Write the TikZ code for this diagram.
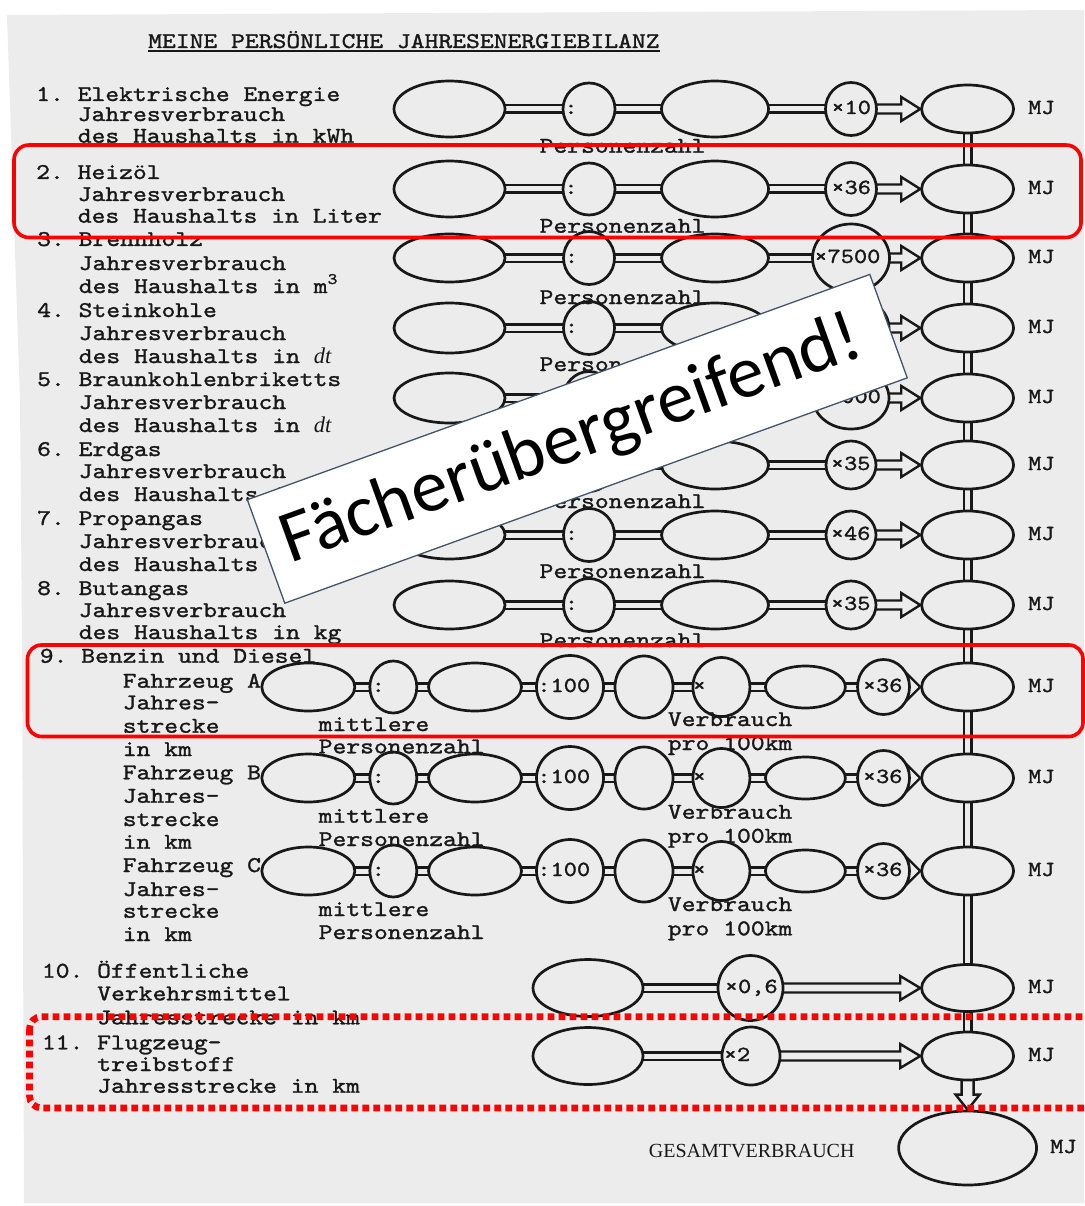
\documentclass[tikz,border=0pt]{standalone}
\usepackage{fontspec}
\newfontfamily\tw{lmmono10-regular.otf}[FakeStretch=1.17, FakeBold=1.3]
\newfontfamily\sv{Liberation Serif}
\newfontfamily\cb{Carlito}
\usetikzlibrary{shapes.geometric,calc}
\pgfdeclarelayer{bg}
\pgfsetlayers{bg,main}
\definecolor{paper}{RGB}{236,236,236}
\definecolor{ink}{RGB}{24,24,24}
\definecolor{slate}{RGB}{68,84,106}
\frenchspacing

\newcommand\bodyfont{\tw\fontsize{22.5}{27}\selectfont}
\newcommand\facfont{\tw\fontsize{21.5}{26}\selectfont}

% hollow arrow with a double shaft: from node #1 to the west side of node #2, head length #3
\newcommand\harrow[3]{%
  \draw[hol] ($(#1.center)+(0,-4.5)$) -- ($(#2.west)+(-#3,-4.5)$) -- ($(#2.west)+(-#3,-12)$)
    -- (#2.west) -- ($(#2.west)+(-#3,12)$) -- ($(#2.west)+(-#3,4.5)$) -- ($(#1.center)+(0,4.5)$);}

% text written inside an oval, starting #2 from its left side
\newcommand\ftext[3]{\node[ftx] (#1t) at ($(#1.west)+(#2,5)$) {#3};}

% one household row: id, y, oval height, colon width/height, factor width/height
\newcommand\stdrow[7]{%
  \node[ov={111}{#3}] (a#1) at (449.5,#2) {};
  \node[ov={#4}{#5}] (b#1) at (589,#2) {};
  \node[ov={107}{#3}] (c#1) at (715,#2) {};
  \node[ov={#6}{#7}] (f#1) at (851,#2) {};
  \node[ov={92}{48}] (r#1) at (967.6,#2) {};
  \ftext{b#1}{2.5}{:}
  \node[ftx] (mj#1) at ($(r#1.east)+(13,5)$) {MJ};
}

% one vehicle row of item 9
\newcommand\carrow[2]{%
  \node[ov={93}{48}] (p#1) at (308.3,#2) {};
  \node[ov={47}{52}] (q#1) at (393.3,#2) {};
  \node[ov={93}{48}] (s#1) at (475,#2) {};
  \node[ov={67}{63}] (h#1) at (570,#2) {};
  \node[ov={58}{62}] (e#1) at (644,#2) {};
  \node[ov={57}{59}] (m#1) at (721.4,#2) {};
  \node[ov={80}{42}] (t#1) at (805.4,#2) {};
  \node[ov={52}{55}] (g#1) at (883.5,#2) {};
  \node[ov={92}{48}] (r9#1) at (967.6,#2) {};
  \ftext{q#1}{3}{:}\ftext{h#1}{2}{:100}\ftext{m#1}{1}{×}\ftext{g#1}{6.5}{×36}
  \node[ftx] (mj9#1) at ($(r9#1.east)+(13,5)$) {MJ};
}

\begin{document}
\begin{tikzpicture}[x=1pt,y=-1pt,
  ov/.style 2 args={ellipse, draw=ink, line width=2.7pt, fill=paper, inner sep=0pt,
    minimum width=#1, minimum height=#2},
  dbl/.style={draw=ink, line width=2.6pt, double=paper, double distance=5pt},
  hol/.style={draw=ink, line width=2.4pt, fill=paper, line join=miter},
  txt/.style={anchor=base west, inner sep=0pt, text=ink, font=\bodyfont},
  ftx/.style={anchor=base west, inner sep=0pt, text=ink, font=\facfont},
  redbox/.style={draw=red, line width=3.6pt}]

\useasboundingbox (0,0) rectangle (1084,1206);

% ---------- ovals ----------
\stdrow{1}{109}{56}{52}{52}{51}{53}
\stdrow{2}{189}{56}{52}{52}{51}{53}
\stdrow{3}{258}{48}{51}{53}{77}{68}
\stdrow{4}{328}{50}{51}{53}{76}{62}
\stdrow{5}{398}{50}{51}{53}{76}{62}
\stdrow{6}{465}{48}{51}{53}{50}{48}
\stdrow{7}{535}{48}{51}{53}{50}{48}
\stdrow{8}{605}{48}{51}{53}{50}{48}

\ftext{f1}{7}{×10}
\ftext{f2}{7}{×36}
\ftext{f3}{3}{×7500}
\ftext{f5}{3}{×3000}
\ftext{f6}{6}{×35}
\ftext{f7}{6}{×46}
\ftext{f8}{6}{×35}

\carrow{A}{687}
\carrow{B}{778}
\carrow{C}{871}

\node[ov={110}{57}] (u10) at (588,988) {};
\node[ov={65}{65}] (x10) at (750.5,988) {};
\node[ov={92}{47}] (r10) at (967.6,988) {};
\ftext{x10}{8}{×0,6}
\node[ftx] (mj10) at ($(r10.east)+(13,5)$) {MJ};

\node[ov={110}{57}] (u11) at (588,1056) {};
\node[ov={58}{58}] (x11) at (751,1056) {};
\node[ov={92}{48}] (r11) at (967.6,1056) {};
\ftext{x11}{3}{×2}
\node[ftx] (mj11) at ($(r11.east)+(13,5)$) {MJ};

\node[ov={138}{74}] (tot) at (967.6,1148) {};
\node[ftx] (mjtot) at ($(tot.east)+(12,5)$) {MJ};
\node[anchor=base, inner sep=0pt, text=ink, font=\sv\fontsize{20}{24}\selectfont] (gesamt) at (751.7,1157) {GESAMTVERBRAUCH};

% ---------- paper and connectors ----------
\begin{pgfonlayer}{bg}
  \fill[white] (0,0) rectangle (1084,1206);
  \fill[paper] (7,15) -- (1084,10) -- (1084,1203) -- (24,1203) -- (22,640) -- (20,400) -- cycle;
  \foreach \i in {1,...,8} {
    \draw[dbl] (a\i.center) -- (b\i.center) -- (c\i.center) -- (f\i.center);
    \harrow{f\i}{r\i}{19}
  }
  \foreach \k in {A,B,C} {
    \draw[dbl] (p\k.center) -- (q\k.center) -- (s\k.center) -- (h\k.center) -- (e\k.center)
      -- (m\k.center) -- (t\k.center) -- (g\k.center);
    \harrow{g\k}{r9\k}{12}
  }
  \draw[dbl] (u10.center) -- (x10.center);
  \harrow{x10}{r10}{20}
  \draw[dbl] (u11.center) -- (x11.center);
  \harrow{x11}{r11}{20}
  \draw[dbl] (r1.center) -- (r2.center) -- (r3.center) -- (r4.center) -- (r5.center)
    -- (r6.center) -- (r7.center) -- (r8.center) -- (r9A.center) -- (r9B.center)
    -- (r9C.center) -- (r10.center) -- (r11.center);
  \draw[hol] ($(r11.center)+(-6,0)$) -- ($(tot.north)+(-6,-15)$) -- ($(tot.north)+(-12,-15)$)
    -- (tot.north) -- ($(tot.north)+(12,-15)$) -- ($(tot.north)+(6,-15)$) -- ($(r11.center)+(6,0)$);
\end{pgfonlayer}

% ---------- title ----------
\node[txt] (title) at (148,48) {MEINE PERSÖNLICHE JAHRESENERGIEBILANZ};
\draw[ink, line width=1.4pt] ($(title.base west)+(0,3)$) -- ($(title.base east)+(0,3)$);

% ---------- left column ----------
\node[txt] (i1a) at (36,101) {1. Elektrische Energie};
\node[txt] (i1b) at (77.6,121) {Jahresverbrauch};
\node[txt] (i1c) at (77.6,142.7) {des Haushalts in kWh};

\node[txt] (i2a) at (36,179) {2. Heizöl};
\node[txt] (i2b) at (77.6,201) {Jahresverbrauch};
\node[txt] (i2c) at (77.6,222.7) {des Haushalts in Liter};

\node[txt] (i3a) at (37,246) {3. Brennholz};
\node[txt] (i3b) at (78.6,270) {Jahresverbrauch};
\node[txt] (i3c) at (78.6,293) {des Haushalts in m\raisebox{9pt}{\fontsize{16}{16}\selectfont 3}};

\node[txt] (i4a) at (37,317) {4. Steinkohle};
\node[txt] (i4b) at (78.6,340) {Jahresverbrauch};
\node[txt] (i4c) at (78.6,363) {des Haushalts in {\sv\itshape dt}};

\node[txt] (i5a) at (37,386) {5. Braunkohlenbriketts};
\node[txt] (i5b) at (78.6,409) {Jahresverbrauch};
\node[txt] (i5c) at (78.6,432) {des Haushalts in {\sv\itshape dt}};

\node[txt] (i6a) at (37,456) {6. Erdgas};
\node[txt] (i6b) at (78.6,478) {Jahresverbrauch};
\node[txt] (i6c) at (78.6,501) {des Haushalts in m\raisebox{9pt}{\fontsize{16}{16}\selectfont 3}};

\node[txt] (i7a) at (37,525) {7. Propangas};
\node[txt] (i7b) at (78.6,548) {Jahresverbrauch};
\node[txt] (i7c) at (78.6,571) {des Haushalts in kg};

\node[txt] (i8a) at (37,595) {8. Butangas};
\node[txt] (i8b) at (78.6,617) {Jahresverbrauch};
\node[txt] (i8c) at (78.6,639) {des Haushalts in kg};

\node[txt] (i9) at (39.6,662.7) {9. Benzin und Diesel};
\node[txt] (i9a1) at (122.6,687.7) {Fahrzeug A};
\node[txt] (i9a2) at (122.6,709.3) {Jahres-};
\node[txt] (i9a3) at (122.6,732.7) {strecke};
\node[txt] (i9a4) at (122.6,756) {in km};
\node[txt] (i9b1) at (122.6,779.3) {Fahrzeug B};
\node[txt] (i9b2) at (122.6,802.7) {Jahres-};
\node[txt] (i9b3) at (122.6,826) {strecke};
\node[txt] (i9b4) at (122.6,848.7) {in km};
\node[txt] (i9c1) at (122.6,872) {Fahrzeug C};
\node[txt] (i9c2) at (122.6,896) {Jahres-};
\node[txt] (i9c3) at (122.6,917.7) {strecke};
\node[txt] (i9c4) at (122.6,941) {in km};

\node[txt] (i10a) at (41.7,977.7) {10. Öffentliche};
\node[txt] (i10b) at (97.1,1000.3) {Verkehrsmittel};
\node[txt] (i10c) at (97.1,1024.3) {Jahresstrecke in km};

\node[txt] (i11a) at (41.7,1049.3) {11. Flugzeug-};
\node[txt] (i11b) at (97.1,1071) {treibstoff};
\node[txt] (i11c) at (97.1,1092.7) {Jahresstrecke in km};

% ---------- captions under the ovals ----------
\node[txt] (pz1) at (539.4,152.7) {Personenzahl};
\node[txt] (pz2) at (539.4,232.7) {Personenzahl};
\node[txt] (pz3) at (539.4,304) {Personenzahl};
\node[txt] (pz4) at (539.4,371) {Personenzahl};
\node[txt] (pz5) at (539.4,440) {Personenzahl};
\node[txt] (pz6) at (539.4,508) {Personenzahl};
\node[txt] (pz7) at (539.4,578) {Personenzahl};
\node[txt] (pz8) at (539.4,647) {Personenzahl};

\node[txt] (mtA) at (318.5,731) {mittlere};
\node[txt] (mpA) at (318.5,753.3) {Personenzahl};
\node[txt] (mtB) at (318.5,822.7) {mittlere};
\node[txt] (mpB) at (318.5,846) {Personenzahl};
\node[txt] (mtC) at (318.5,916) {mittlere};
\node[txt] (mpC) at (318.5,939) {Personenzahl};

\node[txt] (vbA) at (667.7,726) {Verbrauch};
\node[txt] (vkA) at (667.7,750) {pro 100km};
\node[txt] (vbB) at (667.7,818.7) {Verbrauch};
\node[txt] (vkB) at (667.7,842.7) {pro 100km};
\node[txt] (vbC) at (667.7,911) {Verbrauch};
\node[txt] (vkC) at (667.7,935.3) {pro 100km};

% ---------- slanted banner ----------
\node[draw=slate, line width=1.3pt, fill=white, inner sep=0pt, minimum width=662, minimum height=110,
  rotate=19.9] (banner) at (577.3,438.8) {};
\node[rotate=19.9, anchor=base, inner sep=0pt, text=black, font=\cb\fontsize{74}{80}\selectfont]
  (bannertext) at (578,459.5) {Fächerübergreifend!};

% ---------- red highlight frames ----------
\draw[redbox, rounded corners=15pt] (14,145) rectangle (1081,237.5);
\draw[redbox, rounded corners=14pt] (27.5,645) rectangle (1083,736.5);
\draw[draw=red, line width=6.7pt, dash pattern=on 6.7pt off 4.3pt, rounded corners=12pt]
  (29.5,1016.7) rectangle (1100,1108);

\end{tikzpicture}
\end{document}
